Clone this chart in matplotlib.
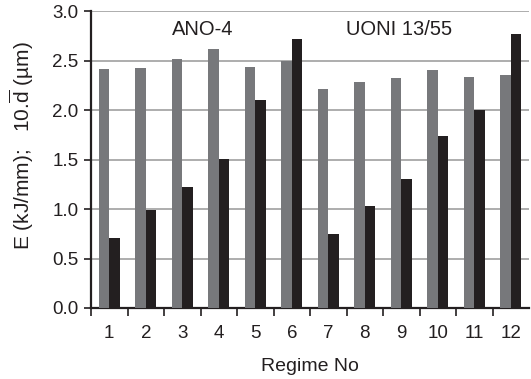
import matplotlib
matplotlib.use("Agg")
import matplotlib.pyplot as plt
import numpy as np

plt.rcParams['font.family'] = ['Liberation Sans', 'DejaVu Sans']
plt.rcParams['mathtext.fontset'] = 'custom'
plt.rcParams['mathtext.rm'] = 'Liberation Sans'
plt.rcParams['mathtext.it'] = 'Liberation Sans'

regimes = ['1', '2', '3', '4', '5', '6', '7', '8', '9', '10', '11', '12']
energy = [2.41, 2.42, 2.52, 2.62, 2.43, 2.49, 2.21, 2.28, 2.32, 2.40, 2.33, 2.35]
diameter = [0.71, 0.99, 1.22, 1.51, 2.10, 2.72, 0.75, 1.03, 1.30, 1.74, 2.00, 2.77]
group_labels = ['ANO-4', 'UONI 13/55']
yticks = [0.0, 0.5, 1.0, 1.5, 2.0, 2.5, 3.0]

W, H = 531, 379
fig = plt.figure(figsize=(W / 100, H / 100), dpi=100)
ax = fig.add_axes([91 / W, 1 - 308 / H, (529 - 91) / W, (308 - 11) / H])

x = np.arange(1, len(regimes) + 1)
bw = 0.29
ax.bar(x - bw / 2, energy, width=bw, color='#77787b', zorder=3)
ax.bar(x + bw / 2, diameter, width=bw, color='#231f20', zorder=3)

ax.set_xlim(0.5, 12.5)
ax.set_ylim(0, 3.0)
ax.set_yticks(yticks)
ax.set_yticklabels([f'{v:.1f}' for v in yticks], fontsize=13.5, color='#231f20')
ax.yaxis.grid(True, color='#a0a0a0', linewidth=1.2, zorder=0)
ax.set_axisbelow(True)

ax.set_xticks(x)
ax.set_xticklabels(regimes, fontsize=13.5, color='#231f20')
ax.tick_params(axis='x', which='major', length=0, pad=12)
ax.set_xticks(np.arange(0.5, 12.5, 1.0), minor=True)
ax.tick_params(axis='x', which='minor', length=6, width=1.2, color='#231f20', direction='out')
ax.tick_params(axis='y', length=5, width=1.2, color='#231f20', direction='out', pad=4)

for s in ['top', 'right']:
    ax.spines[s].set_visible(False)
for s in ['left', 'bottom']:
    ax.spines[s].set_linewidth(1.6)
    ax.spines[s].set_color('#231f20')

ax.set_xlabel('Regime No', fontsize=14, labelpad=12, color='#231f20')
ax.set_ylabel('E (kJ/mm);   10.$\\overline{\\mathrm{d}}$ (\u00b5m)', fontsize=15, color='#231f20')
ax.yaxis.set_label_coords(-0.125, 0.545)

ax.text(3.57, 2.815, group_labels[0], fontsize=14.5, ha='center', va='center', color='#231f20')
ax.text(8.94, 2.815, group_labels[1], fontsize=14.5, ha='center', va='center', color='#231f20')

fig.savefig('out.png', dpi=100)
